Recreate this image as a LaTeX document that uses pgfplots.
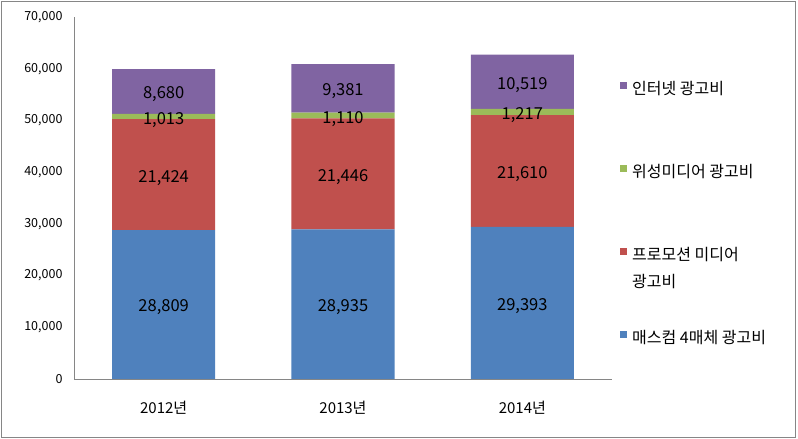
\documentclass[border=0pt]{standalone}
\usepackage{pgfplots}
\pgfplotsset{compat=1.18}
\usepackage{pgfplotstable}
\usepackage{fontspec}
\setmainfont{Noto Sans CJK KR}
\definecolor{cblue}{HTML}{4F81BD}
\definecolor{cred}{HTML}{C0504D}
\definecolor{cgreen}{HTML}{9BBB59}
\definecolor{cpurple}{HTML}{8064A2}
\definecolor{frame}{HTML}{868686}
\pgfplotstableread{
x mass promo sat net
0 28809 21424 1013 8680
1 28935 21446 1110 9381
2 29393 21610 1217 10519
}\data
\begin{document}
\begin{tikzpicture}[x=1pt,y=1pt]
\useasboundingbox (0,0) rectangle (798,439);
\draw[frame, line width=1pt] (1.5,1.5) rectangle (795.5,437.5);
\pgfplotsset{
  base/.style={
    at={(74pt,60pt)}, anchor=south west,
    scale only axis, width=538pt, height=362pt,
    xmin=-0.5, xmax=2.5, ymin=0, ymax=70000,
  }
}
\begin{axis}[base,
  ybar stacked, bar width=103pt,
  axis x line*=bottom, axis y line*=left,
  axis line style={draw=frame, line width=0.8pt},
  major tick length=0pt,
  xtick=data, xticklabels={2012년,2013년,2014년},
  xticklabel style={font=\fontsize{15}{17}\selectfont, yshift=-19pt},
  ytick={0,10000,...,70000},
  scaled y ticks=false,
  yticklabel style={font=\fontsize{12.5}{15}\selectfont, xshift=-8pt},
  /pgf/number format/.cd, 1000 sep={,}, assume math mode=true, /pgfplots/.cd,
  reverse legend,
  legend style={draw=none, fill=none, at={(1,1)}, anchor=north west,
    xshift=8pt, yshift=-65pt, row sep=67pt, column sep=5pt,
    inner sep=0pt,
    nodes={inner sep=0pt, text height=11pt, text depth=4pt,
      font=\fontsize{16}{27}\selectfont, anchor=base west}},
  legend cell align=left,
  legend image code/.code={\fill[#1,/tikz/.cd,draw=none] (0pt,5pt) rectangle (7pt,12pt);},
]
\addplot[fill=cblue, draw=none] table[x=x, y=mass] {\data};
\addlegendentry{매스컴 4매체 광고비}
\addplot[fill=cred, draw=none] table[x=x, y=promo] {\data};
\addlegendentry{\begin{tabular}[t]{@{}l@{}}프로모션 미디어\\광고비\end{tabular}}
\addplot[fill=cgreen, draw=none] table[x=x, y=sat] {\data};
\addlegendentry{위성미디어 광고비}
\addplot[fill=cpurple, draw=none] table[x=x, y=net] {\data};
\addlegendentry{인터넷 광고비}
\end{axis}
\begin{axis}[base, hide axis,
  nodes near coords={\pgfmathprintnumber[1000 sep={,}, assume math mode=true]{\pgfplotspointmeta}},
  point meta=explicit,
  every node near coord/.append style={anchor=center, yshift=-3pt, font=\fontsize{16.5}{20}\selectfont, text=black},
]
\addplot[draw=none, mark=none] table[x=x, y expr=\thisrow{mass}/2, meta=mass] {\data};
\addplot[draw=none, mark=none] table[x=x, y expr=\thisrow{mass}+\thisrow{promo}/2, meta=promo] {\data};
\addplot[draw=none, mark=none] table[x=x, y expr=\thisrow{mass}+\thisrow{promo}+\thisrow{sat}/2, meta=sat] {\data};
\addplot[draw=none, mark=none] table[x=x, y expr=\thisrow{mass}+\thisrow{promo}+\thisrow{sat}+\thisrow{net}/2, meta=net] {\data};
\end{axis}
\end{tikzpicture}
\end{document}
